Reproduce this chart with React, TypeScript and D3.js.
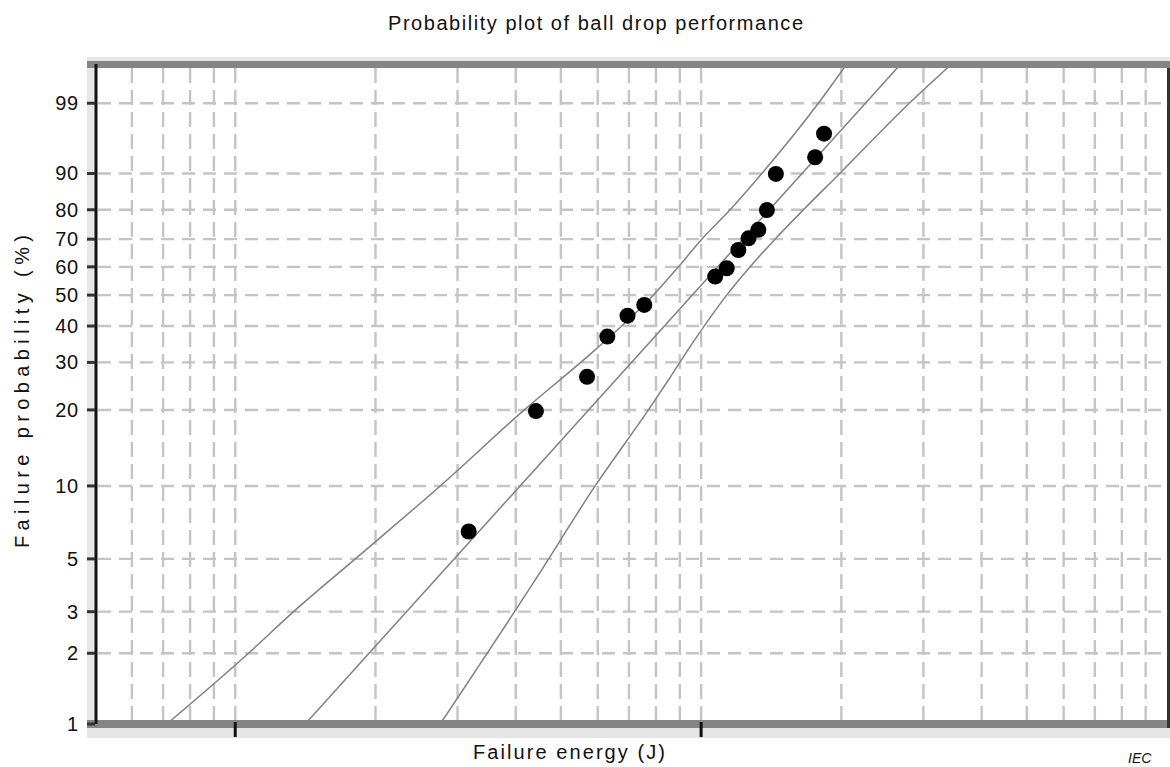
import React from "react";
import * as d3 from "d3";

// ---- data ----
const yTickLabels = [99, 90, 80, 70, 60, 50, 40, 30, 20, 10, 5, 3, 2, 1];
const yGridValues = [99, 90, 80, 70, 60, 50, 40, 30, 20, 10, 5, 3, 2];
const xGridValues = [0.6, 0.7, 0.8, 0.9, 1, 2, 3, 4, 5, 6, 7, 8, 9, 10, 20, 30, 40, 50, 60, 70, 80, 90];
const xMajorTicks = [1, 10];
const xDomain = [0.5, 100];
const yDomainPct = [1, 99.887];

const pointEnergy = [3.17, 4.42, 5.69, 6.29, 6.95, 7.55, 10.72, 11.35, 12.02, 12.64, 13.27, 13.84, 14.47, 17.57, 18.36];
const pointProb = [6.5, 19.8, 26.6, 36.9, 43.2, 46.7, 56.5, 59.5, 66.1, 70.3, 73.3, 79.9, 89.9, 93.3, 96.7];

const fitEnergy = [1.413, 26.83];
const fitProb = [1, 99.887];

const lowerEnergy = [0.713, 1.068, 1.334, 1.81, 2.754, 4.172, 5.923, 7.902, 8.94, 10.03, 11.54, 13.5, 17.85, 20.54];
const lowerProb = [1, 2, 3, 5, 10, 20, 33.2, 50, 60, 70, 80, 90, 99, 99.887];

const upperEnergy = [2.754, 4.404, 5.923, 7.707, 8.508, 9.472, 11.35, 12.74, 14.41, 16.58, 19.84, 27.98, 34.51];
const upperProb = [1, 4.08, 10, 20, 25.9, 34.1, 50, 60, 70, 80, 90, 99, 99.887];

const title = "Probability plot of ball drop performance";
const xLabel = "Failure energy  (J)";
const yLabel = "Failure probability  (%)";

// ---- layout ----
const W = 1170;
const H = 767;
const L = 95;
const R = 1167;
const T = 64;
const B = 724;
const FONT = "'Liberation Sans', Arial, Helvetica, sans-serif";

const weib = (pct: number) => Math.log(-Math.log(1 - pct / 100));

export default function App() {
  const x = d3.scaleLog().domain(xDomain).range([L, R]);
  const yw = d3.scaleLinear().domain(yDomainPct.map(weib)).range([B, T]);
  const y = (pct: number) => yw(weib(pct));

  const mkLine = (es: number[], ps: number[]) =>
    d3
      .line<number>()
      .x((_, i) => x(es[i]))
      .y((_, i) => y(ps[i]))
      .curve(d3.curveMonotoneX)(es.map((_, i) => i)) || "";

  const gridColor = "#c4c4c4";
  const lineColor = "#808080";

  return (
    <svg width={W} height={H} style={{ display: "block", position: "absolute", left: 0, top: 0 }}>
      <defs>
        <clipPath id="plotClip">
          <rect x={L} y={T} width={R - L} height={B - T} />
        </clipPath>
      </defs>
      <rect x={0} y={0} width={W} height={H} fill="#ffffff" />
      <text x={388} y={30} fontFamily={FONT} fontSize={20} textLength={415} lengthAdjust="spacing" fill="#111">
        {title}
      </text>

      {/* frame bands */}
      <rect x={87} y={57} width={W - 87} height={738 - 57} fill="#e6e6e6" />
      <rect x={L} y={T} width={R - L} height={B - T} fill="#ffffff" />

      {/* grid */}
      <g>
        {yGridValues.map((v) => (
          <line key={"h" + v} x1={L + 3} x2={R} y1={y(v)} y2={y(v)} stroke={gridColor} strokeWidth={2.4} strokeDasharray="13 8" />
        ))}
        {xGridValues.map((v) => (
          <line key={"v" + v} x1={x(v)} x2={x(v)} y1={T + 4} y2={B - 4} stroke={gridColor} strokeWidth={2.4} strokeDasharray="15 7" />
        ))}
      </g>

      {/* fit and bounds */}
      <g clipPath="url(#plotClip)" fill="none" stroke={lineColor} strokeWidth={1.5}>
        <path d={mkLine(lowerEnergy, lowerProb)} />
        <path d={mkLine(fitEnergy, fitProb)} />
        <path d={mkLine(upperEnergy, upperProb)} />
      </g>

      {/* points */}
      <g clipPath="url(#plotClip)">
        {pointEnergy.map((e, i) => (
          <circle key={i} cx={x(e)} cy={y(pointProb[i])} r={8} fill="#000" />
        ))}
      </g>

      {/* borders */}
      <line x1={87} x2={W} y1={64.5} y2={64.5} stroke="#858585" strokeWidth={7} />
      <line x1={87} x2={W} y1={724} y2={724} stroke="#858585" strokeWidth={8} />
      <line x1={96} x2={96} y1={64} y2={724} stroke="#111" strokeWidth={3} />
      <line x1={1168.5} x2={1168.5} y1={68} y2={728} stroke="#333" strokeWidth={3} />

      {/* y ticks and labels */}
      {yTickLabels.map((v) => (
        <g key={"t" + v}>
          <line x1={87} x2={95} y1={y(v)} y2={y(v)} stroke="#333" strokeWidth={3} />
          <text
            x={79}
            y={y(v) + 7}
            textAnchor="end"
            fontFamily={FONT}
            fontSize={20}
            letterSpacing={0.8}
            fill="#111"
          >
            {v}
          </text>
        </g>
      ))}

      {/* x major ticks */}
      {xMajorTicks.map((v) => (
        <line key={"x" + v} x1={x(v)} x2={x(v)} y1={722} y2={737} stroke="#111" strokeWidth={3} />
      ))}

      <text x={473} y={759} fontFamily={FONT} fontSize={20} textLength={192} lengthAdjust="spacing" fill="#111">
        {xLabel}
      </text>
      <text
        transform={`translate(29, 548) rotate(-90)`}
        x={0}
        y={0}
        fontFamily={FONT}
        fontSize={20}
        textLength={313}
        lengthAdjust="spacing"
        fill="#111"
      >
        {yLabel}
      </text>
      <text x={1128} y={763} fontFamily={FONT} fontSize={14} fontStyle="italic" fill="#111">
        IEC
      </text>
    </svg>
  );
}
